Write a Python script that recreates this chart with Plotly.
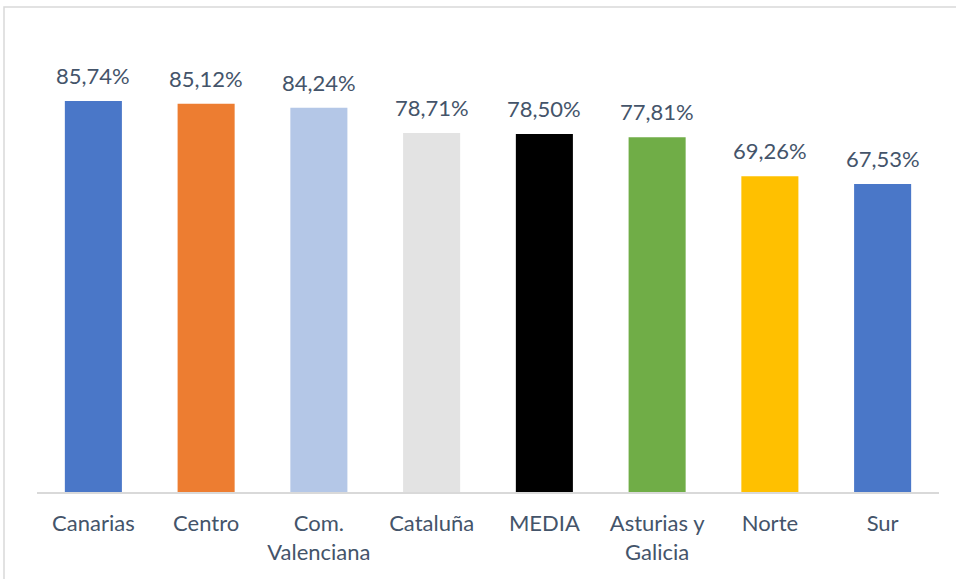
import plotly.graph_objects as go

categories = ["Canarias", "Centro", "Com.<br>Valenciana", "Cataluña", "MEDIA",
              "Asturias y<br>Galicia", "Norte", "Sur"]
values = [85.74, 85.12, 84.24, 78.71, 78.50, 77.81, 69.26, 67.53]
labels = ["85,74%", "85,12%", "84,24%", "78,71%", "78,50%", "77,81%", "69,26%", "67,53%"]
colors = ["#4A77C8", "#ED7D31", "#B4C7E7", "#E3E3E3", "#000000", "#70AD47", "#FFC000", "#4A77C8"]

W, H = 956, 579
L, R, T, B = 37, 17, 36, 87
pw, ph = W - L - R, H - T - B
TXT = "#44546A"

fig = go.Figure(go.Bar(
    x=categories, y=values,
    marker=dict(color=colors, line=dict(width=0)),
    hoverinfo="skip",
))

for c, v, t in zip(categories, values, labels):
    fig.add_annotation(x=c, y=v, text=t, showarrow=False, yanchor="bottom",
                       yshift=10, font=dict(size=22, color=TXT, family="Lato"))

fig.update_layout(
    width=W, height=H,
    margin=dict(l=L, r=R, t=T, b=B, autoexpand=False),
    paper_bgcolor="white", plot_bgcolor="white",
    bargap=0.494,
    showlegend=False,
    font=dict(family="Lato", size=22, color=TXT),
    xaxis=dict(showline=True, linecolor="#D9D9D9", linewidth=2, ticks="",
               tickfont=dict(size=22, color=TXT), showgrid=False,
               ticklabelstandoff=11, automargin=False),
    yaxis=dict(range=[0, 100], visible=False, showgrid=False, automargin=False),
)

fig.add_shape(type="rect", xref="paper", yref="paper",
              x0=(4 - L) / pw, x1=(W + 5 - L) / pw,
              y0=-(H + 5 - (T + ph)) / ph, y1=1 + (T - 7) / ph,
              line=dict(color="#D9D9D9", width=1.5), fillcolor="rgba(0,0,0,0)", layer="below")

fig.write_html("out.html", config={"displayModeBar": False},
               post_script="document.body.style.margin='0';document.body.style.overflow='hidden';")
